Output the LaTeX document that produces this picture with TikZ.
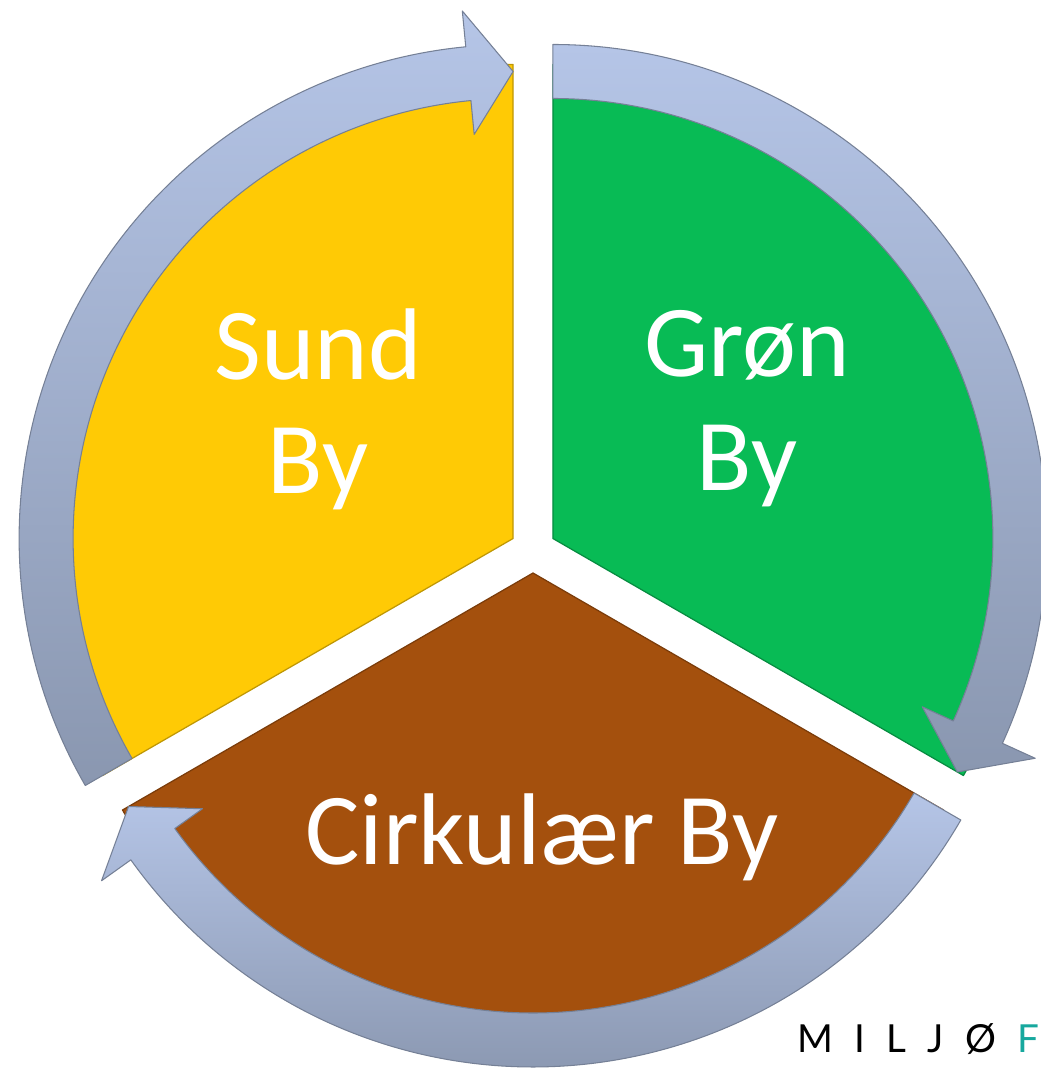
\documentclass[tikz,border=0pt]{standalone}
\usepackage{fontspec}
\setmainfont{Carlito}
\newfontfamily\logofont[LetterSpace=55]{Lato}
\definecolor{sundcol}{HTML}{FFCA05}
\definecolor{groencol}{HTML}{08BB55}
\definecolor{cirkcol}{HTML}{A4500D}
\definecolor{ringlight}{HTML}{B5C5E7}
\definecolor{ringdark}{HTML}{8A97B0}
\definecolor{logoteal}{HTML}{17A89E}
\begin{document}
\begin{tikzpicture}[x=0.02cm,y=0.02cm,
  sector/.style={fill=#1,draw=#1!75!black,line width=0.7pt,line join=round},
  ring/.style={draw=ringdark!85!black,line width=0.6pt,line join=round,
    top color=ringlight,bottom color=ringdark},
  lbl/.style={text=white,inner sep=0pt,align=center,font=\fontsize{58}{65}\selectfont}]
\clip (0,0) rectangle (1041,1069);
% sectors, each pushed out from the middle
\begin{scope}[shift={(513.1,530.5)}]
  \draw[sector=sundcol] (0,0) -- (90:474) arc[start angle=90,end angle=210,radius=474] -- cycle;
\end{scope}
\begin{scope}[shift={(552.9,530.5)}]
  \draw[sector=groencol] (0,0) -- (-30:474) arc[start angle=-30,end angle=90,radius=474] -- cycle;
\end{scope}
\begin{scope}[shift={(533,496)}]
  \draw[sector=cirkcol] (0,0) -- (210:474) arc[start angle=210,end angle=330,radius=474] -- cycle;
\end{scope}
% arrows round the rim
\begin{scope}[shift={(513.1,530.5)}]
  \draw[ring] (210:440) arc[start angle=210,end angle=95.5,radius=440] -- (95.5:406) -- (90:467)
    -- (95.5:530) -- (95.5:494) arc[start angle=95.5,end angle=210,radius=494] -- cycle;
\end{scope}
\begin{scope}[shift={(552.9,530.5)}]
  \draw[ring] (90:440) arc[start angle=90,end angle=-24.5,radius=440] -- (-24.5:406) -- (-30:467)
    -- (-24.5:530) -- (-24.5:494) arc[start angle=-24.5,end angle=90,radius=494] -- cycle;
\end{scope}
\begin{scope}[shift={(533,496)}]
  \draw[ring] (330:440) arc[start angle=330,end angle=215.5,radius=440] -- (215.5:406) -- (210:467)
    -- (215.5:530) -- (215.5:494) arc[start angle=215.5,end angle=330,radius=494] -- cycle;
\end{scope}
% labels
\node[lbl] (sund) at (318,660) {Sund\\By};
\node[lbl] (groen) at (747,660) {Grøn\\By};
\node[lbl,anchor=base] (cirk) at (542,204) {Cirkulær By};
\node[anchor=base west,inner sep=0pt,font=\logofont\fontsize{22}{24}\selectfont] (logo)
  at (797,16) {MILJØ\kern12pt\textcolor{logoteal}{F}};
\end{tikzpicture}
\end{document}
